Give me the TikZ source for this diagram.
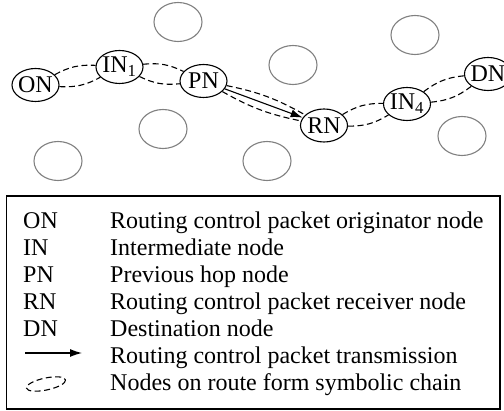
\documentclass[tikz,border=0pt]{standalone}
\usepackage{fontspec}
\setmainfont{Liberation Serif}
\usetikzlibrary{shapes.geometric,arrows.meta}
\tikzset{
  hop/.style={ellipse,draw,line width=1.1pt,fill=white,minimum width=47pt,minimum height=33pt,inner xsep=-3pt,inner ysep=0pt},
  idle/.style={ellipse,draw=gray,line width=1.1pt,minimum width=48pt,minimum height=39pt},
  chain/.style={line width=1.1pt,dash pattern=on 6pt off 3.5pt},
  legtext/.style={anchor=base west,inner sep=0pt}
}

\begin{document}
\begin{tikzpicture}[x=1pt,y=-1pt,font=\fontsize{24}{27}\selectfont]
            \clip (0,0) rectangle (504,411);

            % other nodes of the network
            \foreach \x/\y [count=\i] in {178/22,163/129,58/161,267/161,293/65,415/35,462/136} {
                \node[idle] (g\i) at (\x,\y) {};
            }

            % nodes on the route
            \coordinate (c1) at (35.5,85);
            \coordinate (c2) at (119.5,67);
            \coordinate (c3) at (203.5,81);
            \coordinate (c4) at (324,125.5);
            \coordinate (c5) at (407,104);
            \coordinate (c6) at (488,74);

            \node[hop] (on) at (c1) {ON};
            \node[hop] (in1) at (c2) {IN\textsubscript{1}};
            \node[hop] (pn) at (c3) {PN};
            \node[hop] (rn) at (c4) {RN};
            \node[hop] (in4) at (c5) {IN\textsubscript{4}};
            \node[hop] (dn) at (c6) {DN};

            % symbolic chain
            \draw[chain] (on) to[bend left=16] (in1);
            \draw[chain] (on) to[bend right=16] (in1);
            \draw[chain] (in1) to[bend left=16] (pn);
            \draw[chain] (in1) to[bend right=16] (pn);
            \draw[chain] (pn) to[bend left=9] (rn);
            \draw[chain] (pn) to[bend right=9] (rn);
            \draw[chain] (rn) to[bend left=16] (in4);
            \draw[chain] (rn) to[bend right=16] (in4);
            \draw[chain] (in4) to[bend left=16] (dn);
            \draw[chain] (in4) to[bend right=16] (dn);

            \draw[-{Latex[length=12pt,width=8pt]},line width=1.1pt] (pn) -- (rn);

            % legend
            \draw[line width=1.2pt] (6.5,196) rectangle (500,409);
            \foreach \ab/\txt [count=\i] in {ON/Routing control packet originator node,
                                             IN/Intermediate node,
                                             PN/Previous hop node,
                                             RN/Routing control packet receiver node,
                                             DN/Destination node} {
                \node[legtext] (k\i) at (23,201.5+27*\i) {\ab};
                \node[legtext] (d\i) at (110,201.5+27*\i) {\txt};
            }
            \node[legtext] (d6) at (110,363.5) {Routing control packet transmission};
            \node[legtext] (d7) at (110,390.5) {Nodes on route form symbolic chain};

            \coordinate (a1) at (25,353);
            \coordinate (a2) at (82,353);
            \draw[-{Latex[length=12pt,width=8pt]},line width=1.1pt] (a1) -- (a2);
            \draw[chain,rotate around={12:(46,384)}] (46,384) ellipse (20 and 6);
        \end{tikzpicture}
\end{document}
